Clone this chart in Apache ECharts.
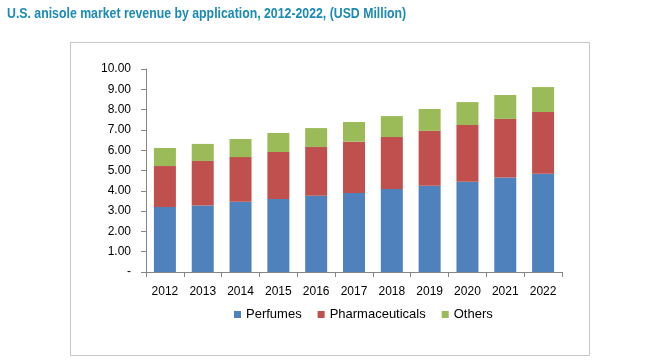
<!DOCTYPE html>
<html><head><meta charset="utf-8">
<script src="https://cdn.jsdelivr.net/npm/echarts@6/dist/echarts.min.js"></script>
<style>html,body{margin:0;padding:0;background:#fff}#c{width:667px;height:364px}</style>
</head><body><div id="c"></div>
<script>
const categories = ['2012','2013','2014','2015','2016','2017','2018','2019','2020','2021','2022'];
const perfumes = [3.20,3.28,3.46,3.60,3.76,3.89,4.09,4.25,4.45,4.65,4.84];
const pharmaceuticals = [2.02,2.19,2.20,2.31,2.40,2.53,2.56,2.70,2.79,2.89,3.04];
const others = [0.89,0.84,0.89,0.94,0.93,0.97,1.03,1.08,1.13,1.18,1.23];
const seriesNames = ['Perfumes','Pharmaceuticals','Others'];
const titleText = 'U.S. anisole market revenue by application, 2012-2022, (USD Million)';
const colors = ['#4f81bd','#c0504d','#9bbb59'];
const font = 'Liberation Sans, Arial, sans-serif';
const chart = echarts.init(document.getElementById('c'));
chart.setOption({
  animation:false,
  graphic:[
    {type:'rect',shape:{x:70.5,y:42.5,width:519,height:313},style:{fill:'none',stroke:'#c6c6c6',lineWidth:1},z:-1},
    {type:'text',x:7,y:6,scaleX:0.82,style:{text:titleText,x:0,y:0,verticalAlign:'top',
      fill:'#1b8ab4',font:'bold 15px Liberation Sans, Arial, sans-serif'}}
  ],
  legend:{data:seriesNames,left:229,top:303,itemWidth:7,itemHeight:7,itemGap:16,icon:'rect',
    textStyle:{fontSize:13,fontFamily:font,color:'#000'}},
  grid:{left:146,right:105,top:69,bottom:92},
  xAxis:{type:'category',data:categories,
    axisLine:{lineStyle:{color:'#868686'}},
    axisTick:{show:true,length:5,lineStyle:{color:'#868686'}},
    axisLabel:{color:'#000',fontSize:12,fontFamily:font,margin:14}},
  yAxis:{type:'value',min:0,max:10,interval:1,
    axisLine:{show:true,lineStyle:{color:'#868686'}},
    axisTick:{show:true,length:5,lineStyle:{color:'#868686'}},
    splitLine:{show:false},
    axisLabel:{color:'#000',fontSize:12,fontFamily:font,margin:15,
      formatter:v=>v===0?'-':v.toFixed(2)}},
  series:[perfumes,pharmaceuticals,others].map((d,i)=>({
    name:seriesNames[i],type:'bar',stack:'a',data:d,barWidth:22,
    itemStyle:{color:colors[i]}}))
});
</script></body></html>
